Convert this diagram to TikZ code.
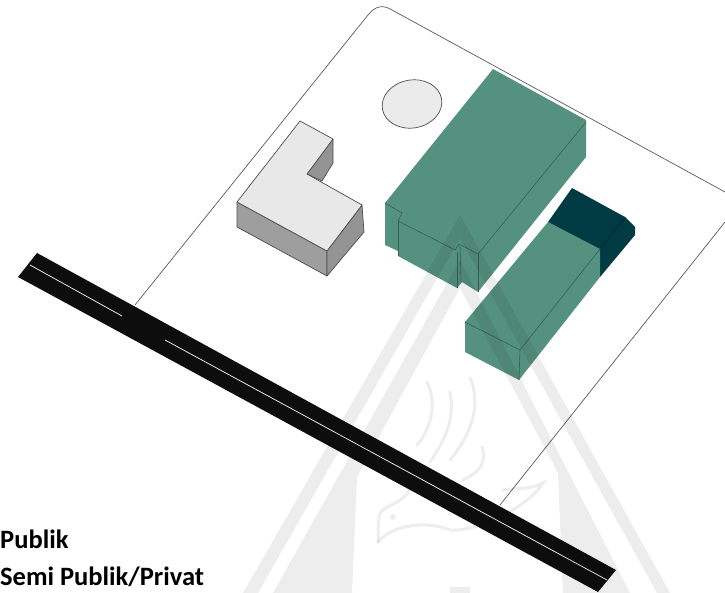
\documentclass[tikz,border=0pt]{standalone}
\usepackage{fontspec}
\setmainfont{Carlito}
\usetikzlibrary{positioning}
\definecolor{tealwall}{HTML}{55917F}
\definecolor{tealdark}{HTML}{003A42}
\begin{document}
\begin{tikzpicture}[
        x=1pt, y=-1pt,
        plotline/.style={draw=black!65, line width=0.7pt},
        roof/.style={fill=black!9, draw=black!70, line width=0.7pt, line join=round},
        wall/.style={fill=black!38, draw=black!70, line width=0.7pt, line join=round},
        green/.style={fill=tealwall},
        greenedge/.style={draw=black!35!tealwall, line width=0.6pt},
        dark/.style={fill=tealdark},
        roadbody/.style={fill=black!95},
        roadline/.style={draw=black!10, line width=0.8pt},
        stamp/.style={fill=black, fill opacity=0.07},
        stampfine/.style={draw=black, draw opacity=0.07, line width=3pt, line cap=round},
        labelstyle/.style={anchor=base west, inner sep=0pt, font=\bfseries\fontsize{26.5}{30}\selectfont}
    ]
    \useasboundingbox (0,0) rectangle (725,593);
    \clip (0,0) rectangle (725,593);

    % --- Plot boundary ---
    \draw[plotline] (135,305) -- (368,15) .. controls (376,5) and (384,5) .. (392,10) -- (725,192);
    \draw[plotline] (725,222) -- (500,505);

    % --- Round element ---
    \draw[roof, fill=black!8, rotate around={10:(412,104)}] (412,104) ellipse (30 and 24);

    % --- L-shaped block ---
    \draw[wall] (237,202) -- (237,227) -- (327,276) -- (327,251) -- cycle;
    \draw[wall, fill=black!42] (327,251) -- (327,276) -- (364,232) -- (362,205) -- cycle;
    \draw[wall, fill=black!42] (333,139) -- (333,163) -- (322,181) -- (307,174) -- cycle;
    \draw[roof] (300,121) -- (333,139) -- (307,174) -- (362,205) -- (327,251) -- (237,202) -- cycle;

    % --- Large green block ---
    \fill[green] (493,69) -- (586,120) -- (586,157) -- (478,292) -- (462,282) -- (457,288)
        -- (398,256) -- (398,251) -- (385,245) -- (385,203) -- cycle;
    \draw[greenedge] (586,122) -- (478,254) -- (459,244) -- (455,250)
        -- (398,221) -- (402,213) -- (385,203);
    \draw[greenedge] (398,221) -- (398,256);
    \draw[greenedge] (457,252) -- (457,288);
    \draw[greenedge] (460,246) -- (461,282);
    \draw[greenedge] (478,254) -- (478,292);

    % --- Small green block with dark end ---
    \fill[dark] (572,188) -- (625,217) -- (635,227) -- (635,235) -- (600,277) -- (590,260) -- (548,222) -- cycle;
    \draw[draw=black!50!tealdark, line width=0.5pt] (600,249) -- (625,217);
    \fill[green] (548,222) -- (600,249) -- (600,277) -- (519,380) -- (465,352) -- (465,322) -- cycle;
    \draw[greenedge] (465,322) -- (520,350) -- (600,249);
    \draw[greenedge] (520,350) -- (519,380);

    % --- Road ---
    \fill[roadbody] (37,253) -- (616,570) -- (598,592) -- (18,277) -- cycle;
    \draw[roadline] (30,265) -- (122,316);
    \draw[roadline] (165,340) -- (607,580);

    % --- Faint stamp over the drawing ---
    \fill[stamp] (460,215) -- (670,593) -- (657,593) -- (460,238) -- (258,593) -- (243,593) -- cycle;
    \fill[stamp] (460,260) -- (630,593) -- (563,593) -- (558,473) -- (460,288) -- (357,477)
        -- (352,593) -- (273,593) -- cycle;
    \fill[stamp] (450,587) rectangle (470,593);
    \draw[stampfine] (427,382) .. controls (438,405) and (430,430) .. (417,445);
    \draw[stampfine] (470,378) .. controls (480,400) and (475,430) .. (450,460);
    \draw[stampfine] (450,392) .. controls (455,420) and (445,440) .. (430,462);
    \draw[stampfine] (482,447) .. controls (487,462) and (480,472) .. (463,480);
    \draw[stampfine] (378,542) .. controls (378,530) and (378,520) .. (380,513)
        .. controls (385,505) and (400,505) .. (410,490);
    \draw[stampfine] (378,542) .. controls (392,525) and (425,520) .. (450,530)
        .. controls (480,532) and (530,505) .. (543,483)
        .. controls (530,490) and (515,488) .. (503,490);
    \fill[stamp] (393,517) circle (3);

    % --- Legend ---
    \node[labelstyle] (publik) at (0,548) {Publik};
    \node[labelstyle] (semipublik) at (0,585) {Semi Publik/Privat};

    \end{tikzpicture}
\end{document}
